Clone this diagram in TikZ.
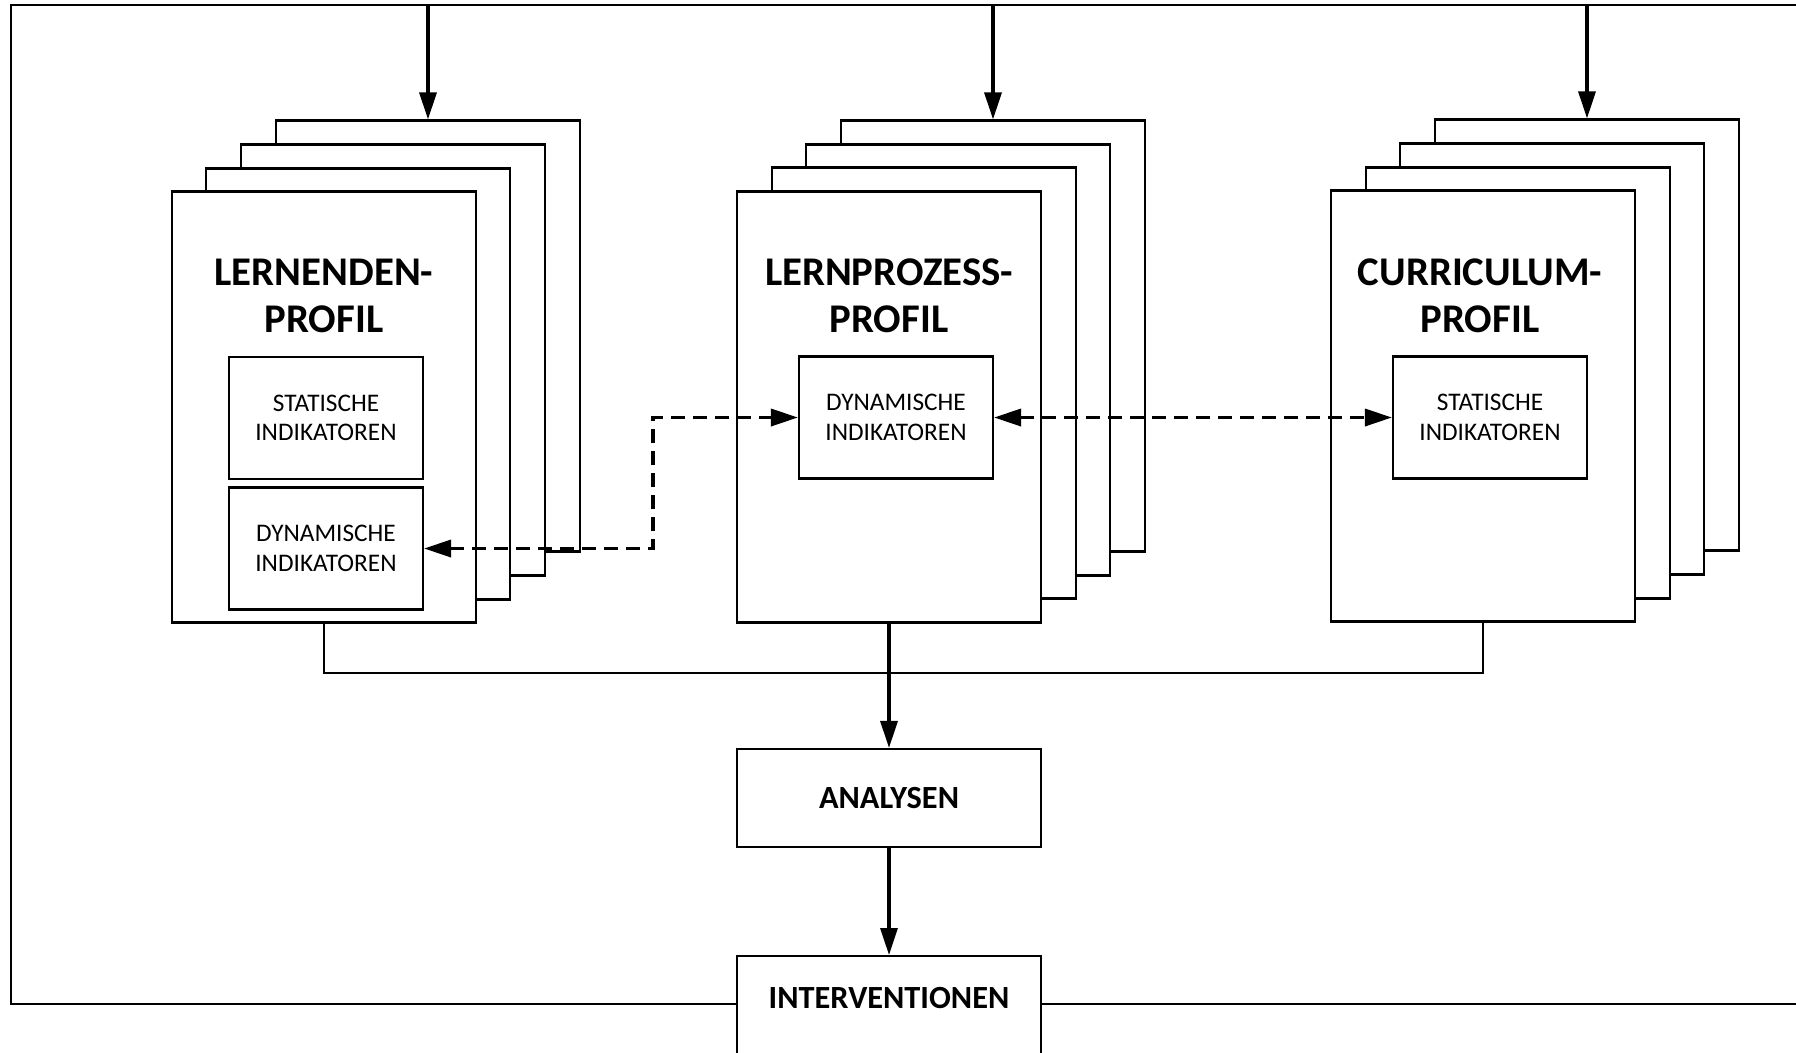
\documentclass[tikz,border=0pt]{standalone}
\usepackage{fontspec}
\setmainfont{Carlito}
\usetikzlibrary{arrows.meta}
\tikzset{
  karte/.style={draw, fill=white, line width=0.6pt, minimum width=30.4mm, minimum height=43.1mm, inner sep=0pt},
  titel/.style={align=center, inner sep=0pt, font=\bfseries\fontsize{11.6}{13.4}\selectfont},
  indikator/.style={draw, fill=white, line width=0.6pt, minimum width=19.4mm, minimum height=12.2mm, align=center, inner sep=0pt, font=\fontsize{7.2}{8.4}\selectfont},
  kasten/.style={draw, fill=white, line width=0.6pt, minimum width=30.4mm, inner sep=0pt, font=\bfseries\fontsize{9.2}{10}\selectfont},
  pfeil/.style={line width=0.9pt, -{Triangle[length=2.7mm, width=1.7mm]}},
  strichpfeil/.style={line width=1pt, dash pattern=on 1.4mm off 0.8mm, {Triangle[length=2.7mm, width=1.7mm]}-{Triangle[length=2.7mm, width=1.7mm]}},
  rahmen/.style={line width=0.8pt}
}
\begin{document}
\begin{tikzpicture}[x=0.1mm, y=-0.1mm]
    \useasboundingbox (0,0) rectangle (1796,1052);
    % Lernendenprofil
    \node[karte] (lern3) at (428,336) {};
    \node[karte] (lern2) at (393,360) {};
    \node[karte] (lern1) at (358,384) {};
    \node[karte] (lern) at (324,407) {};
    \node[titel] (lerntitel) at (324,295.5) {LERNENDEN-\\PROFIL};
    \node[indikator] (lernstat) at (326,418) {STATISCHE\\INDIKATOREN};
    \node[indikator] (lerndyn) at (326,548.5) {DYNAMISCHE\\INDIKATOREN};
    % Lernprozessprofil
    \node[karte] (prozess3) at (993,336) {};
    \node[karte] (prozess2) at (958,360) {};
    \node[karte] (prozess1) at (924,383) {};
    \node[karte] (prozess) at (889,407) {};
    \node[titel] (prozesstitel) at (889,295.5) {LERNPROZESS-\\PROFIL};
    \node[indikator] (prozdyn) at (896,417.5) {DYNAMISCHE\\INDIKATOREN};
    % Curriculumprofil
    \node[karte] (curr3) at (1587,335) {};
    \node[karte] (curr2) at (1552,359) {};
    \node[karte] (curr1) at (1518,383) {};
    \node[karte] (curr) at (1483,406) {};
    \node[titel] (currtitel) at (1480,295.5) {CURRICULUM-\\PROFIL};
    \node[indikator] (currstat) at (1490,417.5) {STATISCHE\\INDIKATOREN};
    % Analysen und Interventionen
    \node[kasten, minimum height=9.8mm] (analysen) at (889,798) {ANALYSEN};
    \node[kasten, anchor=north, text height=5.2mm, text depth=12mm] (interv) at (889,955) {INTERVENTIONEN};
    \coordinate (ecku) at (11,1004);
    \coordinate (ecko) at (11,5);
    \coordinate (rando) at (1800,5);
    \coordinate (randu) at (1800,1004);
    \coordinate (knoten) at (889,673);
    \coordinate (knick) at (653,417.5);
    % Rahmen
    \draw[rahmen] (interv.west |- ecku) -- (ecku) -- (ecko) -- (rando);
    \draw[rahmen] (interv.east |- randu) -- (randu);
    \draw[pfeil] (lern3.north |- ecko) -- (lern3.north);
    \draw[pfeil] (prozess3.north |- ecko) -- (prozess3.north);
    \draw[pfeil] (curr3.north |- ecko) -- (curr3.north);
    % Zusammenfuehrung
    \draw[rahmen] (lern.south) |- (knoten) -| (curr.south);
    \draw[pfeil] (prozess.south) -- (analysen.north);
    \draw[pfeil] (analysen.south) -- (interv.north);
    % Indikatoren
    \draw[strichpfeil] (lerndyn.east) -| (knick) -- (prozdyn.west);
    \draw[strichpfeil] (prozdyn.east) -- (currstat.west);
\end{tikzpicture}
\end{document}
